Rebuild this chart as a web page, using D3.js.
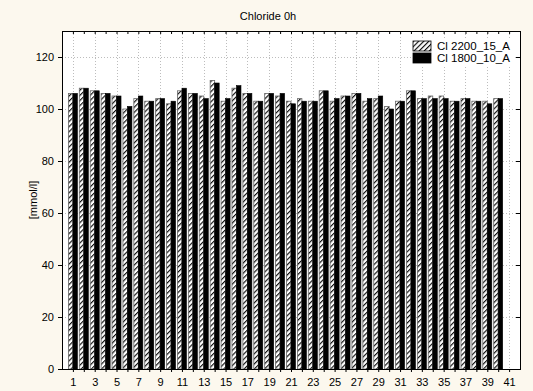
<!DOCTYPE html>
<html>
<head>
<meta charset="utf-8">
<script src="https://cdn.jsdelivr.net/npm/d3@7"></script>
<style>
  body { margin: 0; background: #fcf8ee; }
  svg { display: block; font-family: "Liberation Sans", Arial, sans-serif; }
</style>
</head>
<body>
<script>
// categories on the x axis (41 has no data)
var categories = [1,2,3,4,5,6,7,8,9,10,11,12,13,14,15,16,17,18,19,20,
                  21,22,23,24,25,26,27,28,29,30,31,32,33,34,35,36,37,38,39,40];
var xTickLabels = [1,3,5,7,9,11,13,15,17,19,21,23,25,27,29,31,33,35,37,39,41];
var yTicks = [0,20,40,60,80,100,120];

// Cl 2200_15_A (hatched)
var cl2200 = [106,108,107,106,105,100,104,103,104,102,107,106,105,111,103,108,106,103,106,105,
              103,104,103,107,103,105,106,103,104,101,103,107,104,105,105,103,104,103,103,104];
// Cl 1800_10_A (black)
var cl1800 = [106,108,107,106,105,101,105,103,104,103,108,106,104,110,104,109,106,103,106,106,
              102,103,103,107,104,105,106,104,105,100,103,107,104,104,104,103,104,103,102,104];

var seriesNames = ["Cl 2200_15_A", "Cl 1800_10_A"];

var W = 533, H = 391;
var margin = {top: 31, right: 13, bottom: 22, left: 62};
var width = W - margin.left - margin.right,
    height = H - margin.top - margin.bottom;

var svg = d3.select("body").append("svg")
    .attr("width", W)
    .attr("height", H);

// hatch pattern
var defs = svg.append("defs");
defs.append("pattern")
    .attr("id", "hatch")
    .attr("patternUnits", "userSpaceOnUse")
    .attr("width", 3.6)
    .attr("height", 3.6)
    .attr("patternTransform", "rotate(45)")
  .call(function(p) {
    p.append("rect").attr("width", 3.6).attr("height", 3.6).attr("fill", "#fff");
    p.append("line").attr("x1", 0.6).attr("y1", 0).attr("x2", 0.6).attr("y2", 3.6)
      .attr("stroke", "#000").attr("stroke-width", 1.1);
  });

// title
svg.append("text")
    .attr("x", 268)
    .attr("y", 20)
    .attr("text-anchor", "middle")
    .attr("font-size", 11)
    .text("Chloride 0h");

// y label
svg.append("text")
    .attr("transform", "translate(37," + (margin.top + height / 2) + ") rotate(-90)")
    .attr("text-anchor", "middle")
    .attr("font-size", 11)
    .text("[mmol/l]");

var g = svg.append("g")
    .attr("transform", "translate(" + margin.left + "," + margin.top + ")");

var x = d3.scaleLinear().domain([0, 42]).range([0, width]);
var y = d3.scaleLinear().domain([0, 130]).range([height, 0]);

// plot background
g.append("rect")
    .attr("width", width)
    .attr("height", height)
    .attr("fill", "#fff");

// grid
g.selectAll(".vgrid")
    .data(xTickLabels)
  .enter().append("line")
    .attr("x1", d => Math.round(x(d)) + 0.5)
    .attr("x2", d => Math.round(x(d)) + 0.5)
    .attr("y1", 0)
    .attr("y2", height)
    .attr("stroke", "#bdbdbd")
    .attr("stroke-dasharray", "1,2");

g.selectAll(".hgrid")
    .data(yTicks.slice(1))
  .enter().append("line")
    .attr("x1", 0)
    .attr("x2", width)
    .attr("y1", d => Math.round(y(d)) + 0.5)
    .attr("y2", d => Math.round(y(d)) + 0.5)
    .attr("stroke", "#bdbdbd")
    .attr("stroke-dasharray", "1,2");

// bars
var bw = 4.5;
g.selectAll(".barA")
    .data(categories)
  .enter().append("rect")
    .attr("x", (d, i) => x(d) - bw)
    .attr("y", (d, i) => y(cl2200[i]))
    .attr("width", bw)
    .attr("height", (d, i) => y(0) - y(cl2200[i]))
    .attr("fill", "url(#hatch)")
    .attr("stroke", "#666")
    .attr("stroke-width", 0.8);

g.selectAll(".barB")
    .data(categories)
  .enter().append("rect")
    .attr("x", d => x(d))
    .attr("y", (d, i) => y(cl1800[i]))
    .attr("width", bw)
    .attr("height", (d, i) => y(0) - y(cl1800[i]))
    .attr("fill", "#000")
    .attr("stroke", "#000")
    .attr("stroke-width", 0.6);

// axes
var allTicks = categories.concat([41]);
g.append("g")
    .attr("transform", "translate(0," + height + ")")
    .call(d3.axisBottom(x).tickValues(allTicks).tickSize(3)
      .tickFormat(d => xTickLabels.indexOf(d) >= 0 ? d : ""))
    .call(a => a.select(".domain").remove())
    .call(a => a.selectAll("text").attr("font-size", 11).attr("font-family", null).attr("dy", "1.0em"));

g.append("g")
    .call(d3.axisTop(x).tickValues(allTicks).tickSize(-3).tickFormat(""))
    .call(a => a.select(".domain").remove());

g.append("g")
    .call(d3.axisLeft(y).tickValues(yTicks).tickSize(4).tickPadding(4))
    .call(a => a.select(".domain").remove())
    .call(a => a.selectAll("text").attr("font-size", 11).attr("font-family", null));

g.append("g")
    .attr("transform", "translate(" + width + ",0)")
    .call(d3.axisRight(y).tickValues(yTicks).tickSize(-4).tickFormat(""))
    .call(a => a.select(".domain").remove());

// frame
g.append("rect")
    .attr("x", 0.5)
    .attr("y", 0.5)
    .attr("width", width)
    .attr("height", height)
    .attr("fill", "none")
    .attr("stroke", "#000");

// legend
var legend = g.append("g")
    .attr("transform", "translate(" + (413 - margin.left) + "," + (41 - margin.top) + ")");
legend.append("rect")
    .attr("x", -2).attr("y", -2)
    .attr("width", 104).attr("height", 26)
    .attr("fill", "#fff");
seriesNames.forEach(function(name, i) {
  legend.append("rect")
      .attr("x", 0)
      .attr("y", i * 12)
      .attr("width", 18)
      .attr("height", 10)
      .attr("fill", i == 0 ? "url(#hatch)" : "#000")
      .attr("stroke", "#000")
      .attr("stroke-width", 0.8);
  legend.append("text")
      .attr("x", 24)
      .attr("y", i * 12 + 5)
      .attr("dy", "0.35em")
      .attr("font-size", 11.5)
      .text(name);
});
</script>
</body>
</html>
